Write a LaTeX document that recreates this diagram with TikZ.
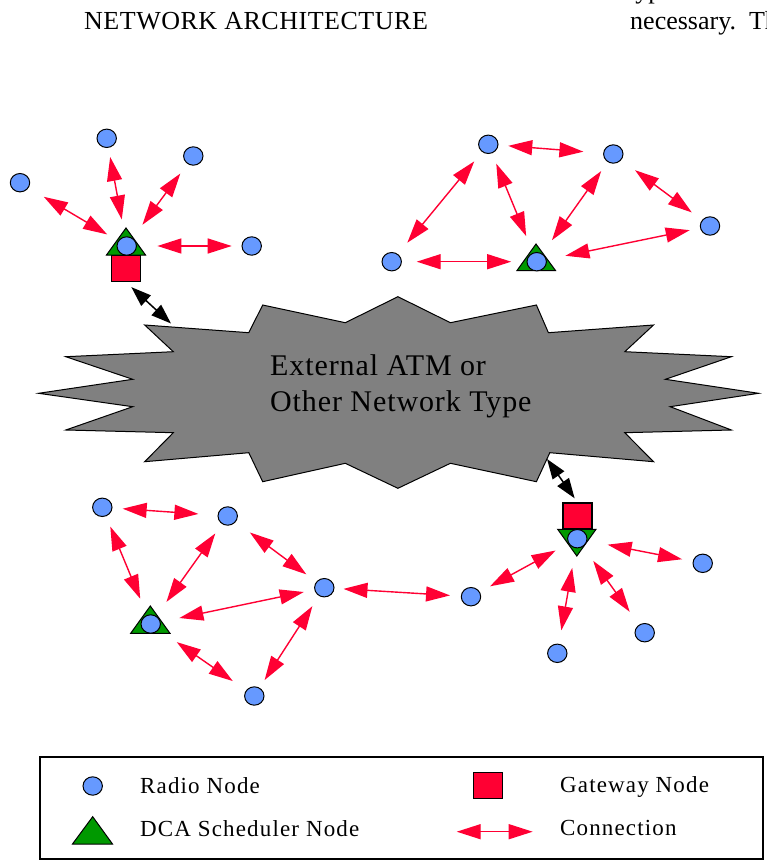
\documentclass[tikz,border=0pt]{standalone}
\usepackage{fontspec}
\setmainfont{Liberation Serif}
\newfontfamily\cloudfont[LetterSpace=3]{Liberation Serif}
\newfontfamily\legfont[LetterSpace=5]{Liberation Serif}
\newfontfamily\titlefont[LetterSpace=2]{Liberation Serif}
\usetikzlibrary{arrows.meta,shapes.geometric}
\definecolor{radioblue}{RGB}{102,153,255}
\definecolor{gwred}{RGB}{255,0,51}
\definecolor{schedgreen}{RGB}{0,153,0}
\definecolor{cloudgray}{RGB}{128,128,128}
\tikzset{
  radio/.style={ellipse,draw=black,fill=radioblue,line width=1pt,minimum width=19.4pt,minimum height=18.4pt,inner sep=0pt},
  gw/.style={rectangle,draw=black,fill=gwred,line width=1.2pt,minimum width=29pt,minimum height=26pt,inner sep=0pt},
  sched/.style={draw=black,fill=schedgreen,line width=1pt,line join=miter},
  conn/.style={draw=gwred,line width=1.4pt,{Triangle[length=24pt,width=15pt]}-{Triangle[length=24pt,width=15pt]}},
  ext/.style={draw=black,line width=1.5pt,{Triangle[length=20pt,width=14pt]}-{Triangle[length=20pt,width=14pt]}},
  txt/.style={anchor=base west,inner sep=0pt}
}
\newcommand\netlink[4]{\draw[conn,shorten <=#3pt,shorten >=#4pt] (#1.center) -- (#2.center);}
\begin{document}
\begin{tikzpicture}[x=1pt,y=-1pt]
\useasboundingbox (0,0) rectangle (767,861);
\clip (0,0) rectangle (767,861);

% page text fragments
\node[txt] (title) at (84,30) {\titlefont\fontsize{26}{30}\selectfont NETWORK ARCHITECTURE};
\node[txt] (frag1) at (630,30) {\fontsize{26}{30}\selectfont necessary.\ \ Th};
\node[txt] (frag0) at (628,-1.5) {\fontsize{26}{30}\selectfont typ};

% cloud
\filldraw[fill=cloudgray,draw=black,line width=1pt,line join=miter]
 (38.6,393.3) -- (132.7,379.3) -- (65.8,356.7) -- (173.3,351.7) -- (144.7,325)
 -- (248.8,332.7) -- (262.7,305) -- (345.3,322.7) -- (397.9,296.7) -- (450.4,322.7)
 -- (536.4,305) -- (548.4,332.7) -- (653.5,325) -- (624.8,351.7) -- (731.4,356.7)
 -- (665.4,379.3) -- (758.6,393.3) -- (670.2,406.7) -- (731.4,430) -- (624.8,432.7)
 -- (653.5,461.7) -- (549.8,452.7) -- (536.4,481.7) -- (450.4,463.3) -- (397.9,488.3)
 -- (345.3,463.3) -- (262.7,481.7) -- (248.8,452.7) -- (144.7,461.7) -- (173.3,432.7)
 -- (65.8,430) -- (132.7,406.7) -- cycle;
\node[txt] (ct1) at (270,375) {\cloudfont\fontsize{30}{36}\selectfont External ATM or};
\node[txt] (ct2) at (270,411.7) {\cloudfont\fontsize{30}{36}\selectfont Other Network Type};
\coordinate (e1) at (171,323.5);
\coordinate (e2) at (547,459);

% top-left cluster
\node[gw] (g1) at (126.2,268.8) {};
\draw[sched] (126,228) -- (145.5,255) -- (106.5,255) -- cycle;
\node[radio] (s1) at (126.7,246) {};
\node[radio] (r1) at (20,182.7) {};
\node[radio] (r2) at (106.7,138.3) {};
\node[radio] (r3) at (193.3,156) {};
\node[radio] (r4) at (251.7,246) {};

% top-right cluster
\draw[sched] (536,244) -- (555.5,270.5) -- (517,270.5) -- cycle;
\node[radio] (s2) at (536.7,261.7) {};
\node[radio] (r5) at (488.3,144.3) {};
\node[radio] (r6) at (613.3,154) {};
\node[radio] (r7) at (710,226) {};
\node[radio] (r8) at (391.7,261.7) {};

% bottom-left cluster
\draw[sched] (150.3,606) -- (170,633.3) -- (130.7,633.3) -- cycle;
\node[radio] (s3) at (150.7,624) {};
\node[radio] (r9) at (102.3,507.3) {};
\node[radio] (r10) at (227.7,516) {};
\node[radio] (r11) at (324.3,587.7) {};
\node[radio] (r12) at (254.3,696) {};

% bottom-right cluster
\node[gw] (g2) at (577.5,516) {};
\draw[sched] (557.7,529.3) -- (596,529.3) -- (576.8,556) -- cycle;
\node[radio] (s4) at (577.3,538.7) {};
\node[radio] (r13) at (471,596.7) {};
\node[radio] (r14) at (557.3,653.3) {};
\node[radio] (r15) at (644.7,632.7) {};
\node[radio] (r16) at (702.7,563.3) {};

% external links
\draw[ext,shorten <=7pt] (g1.south) -- (e1);
\draw[ext,shorten >=5pt] (e2) -- (g2.north);

% connections
\netlink{r1}{s1}{27.6}{22.7}
\netlink{r2}{s1}{19}{27}
\netlink{r3}{s1}{21.8}{26.4}
\netlink{r4}{s1}{20}{30.7}
\netlink{r5}{r6}{20}{30}
\netlink{r5}{r8}{22.1}{24.6}
\netlink{r5}{s2}{20.9}{27.7}
\netlink{r6}{s2}{20.9}{26.4}
\netlink{r6}{r7}{27.1}{22.7}
\netlink{r7}{s2}{20.7}{29.3}
\netlink{r8}{s2}{25}{25.5}
\netlink{r9}{r10}{20.4}{29.4}
\netlink{r9}{s3}{20.9}{27.3}
\netlink{r10}{s3}{21.4}{27.1}
\netlink{r10}{r11}{27.6}{22.4}
\netlink{r11}{s3}{21}{29.3}
\netlink{r11}{r12}{22}{19}
\netlink{s3}{r12}{31.7}{26.2}
\netlink{r11}{r13}{19.2}{21}
\netlink{r13}{s4}{21.7}{24.7}
\netlink{r14}{s4}{23.3}{29.6}
\netlink{r15}{s4}{25.7}{27.3}
\netlink{r16}{s4}{21}{30.9}

% legend
\draw[black,line width=1.2pt] (40,757) rectangle (763,859);
\node[radio] (lr) at (92.7,786) {};
\node[txt] (lt1) at (140,793.3) {\legfont\fontsize{23}{27}\selectfont Radio Node};
\draw[sched] (92.7,816.7) -- (112.5,844) -- (72.5,844) -- cycle;
\node[txt] (lt2) at (140,836) {\legfont\fontsize{23}{27}\selectfont DCA Scheduler Node};
\node[gw] (lg) at (487.8,785.7) {};
\node[txt] (lt3) at (560,792.3) {\legfont\fontsize{23}{27}\selectfont Gateway Node};
\coordinate (la) at (456.7,831.7);
\coordinate (lb) at (532.7,831.7);
\draw[conn] (la) -- (lb);
\node[txt] (lt4) at (560,835.7) {\legfont\fontsize{23}{27}\selectfont Connection};
\end{tikzpicture}
\end{document}
